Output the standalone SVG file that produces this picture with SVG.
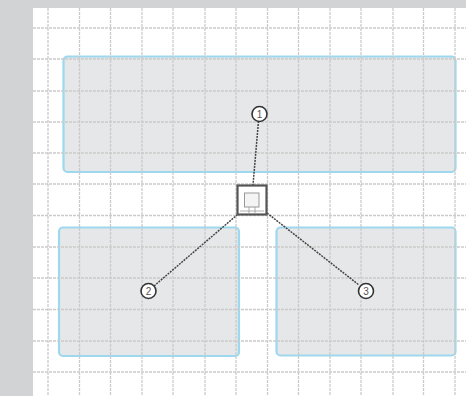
<svg xmlns="http://www.w3.org/2000/svg" width="466" height="396" viewBox="0 0 466 396">
<style>
.area{fill:#e6e7e8;stroke:#9dd8ee;stroke-width:2.200}
.gv{stroke:#cbcbcb;stroke-width:1.300;stroke-dasharray:3 1}
.gh{stroke:#cbcbcb;stroke-width:1.300;stroke-dasharray:3 1}
.link{fill:none;stroke:#444;stroke-width:1.500;stroke-dasharray:2 1}
.num{fill:#fff;stroke:#333;stroke-width:1.600}
.lbl{font-family:"Liberation Sans",Arial,sans-serif;font-size:10px;fill:#555;text-anchor:middle}
</style>
<rect width="466" height="396" fill="#d2d3d5"/>
<rect x="33" y="8" width="433" height="388" fill="#fff"/>
<g id="area-1"><rect class="area" x="63.500" y="56.500" width="392" height="115.500" rx="4"/></g>
<g id="area-2"><rect class="area" x="59" y="227.500" width="180" height="128.500" rx="4"/></g>
<g id="area-3"><rect class="area" x="276.500" y="227.500" width="179" height="128" rx="4"/></g>
<g id="grid">
<path class="gv" d="M48 8V396M79.500 8V396M110.500 8V396M142 8V396M173 8V396M205 8V396M236 8V396M267.500 8V396M298.500 8V396M330 8V396M361 8V396M393 8V396M423.500 8V396M455 8V396"/>
<path class="gh" d="M33 28H466M33 59H466M33 91H466M33 122H466M33 153H466M33 184H466M33 215.500H466M33 247H466M33 278H466M33 309.500H466M33 341H466M33 372H466"/>
</g>
<g id="connectors">
<path class="link" d="M258.500 121L253 185"/>
<path class="link" d="M154 286L237 215"/>
<path class="link" d="M267 213L359 285"/>
</g>
<g id="device">
<rect x="237.500" y="185.500" width="29" height="29" fill="#fff" stroke="#555" stroke-width="2.200"/>
<rect x="244.500" y="193" width="14.500" height="14" fill="#f4f4f4" stroke="#999" stroke-width="1"/>
<path d="M249 207V213M255 207V213M240 211H264" fill="none" stroke="#999" stroke-width="0.800"/>
</g>
<g id="marker-1"><circle class="num" cx="259.500" cy="114" r="7.500"/><text class="lbl" x="259.500" y="117.500">1</text></g>
<g id="marker-2"><circle class="num" cx="148.500" cy="291" r="7.500"/><text class="lbl" x="148.500" y="294.500">2</text></g>
<g id="marker-3"><circle class="num" cx="366" cy="291" r="7.500"/><text class="lbl" x="366" y="294.500">3</text></g>
</svg>
